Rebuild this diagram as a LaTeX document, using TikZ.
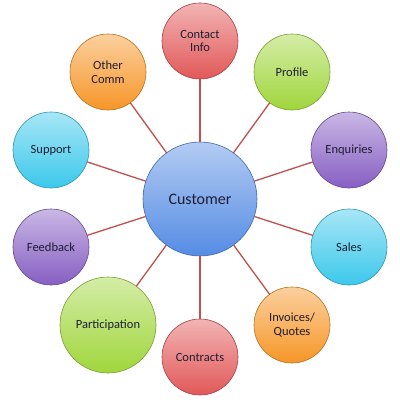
\documentclass[tikz,border=0pt]{standalone}
\usepackage{fontspec}
\setmainfont{Carlito}
\definecolor{linkred}{RGB}{192,80,77}
\definecolor{txt}{RGB}{30,30,50}
\definecolor{cred}{RGB}{226,88,88}
\definecolor{cgreen}{RGB}{160,214,60}
\definecolor{cpurple}{RGB}{135,95,195}
\definecolor{ccyan}{RGB}{60,200,235}
\definecolor{corange}{RGB}{246,150,40}
\definecolor{cblue}{RGB}{85,140,228}
\begin{document}
\begin{tikzpicture}[x=1pt,y=-1pt,line join=round,line cap=round,font=\fontsize{12.5}{13.5}\selectfont,
	bubble/.style={circle,minimum size=76pt,inner sep=1pt,align=center,text=txt,draw=#1!75!black,line width=.6pt,top color=#1!45!white,bottom color=#1},
	link/.style={draw=linkred,line width=1.3pt}]
	\useasboundingbox (0,0) rectangle (400,400);
	\node[bubble=cblue,minimum size=114pt,font=\fontsize{16}{17}\selectfont] (hub) at (200,199) {Customer};
	\foreach \n/\x/\y/\c/\t in {contact/200/41/cred/{Contact\\Info},
			profile/292/72/cgreen/Profile,
			enquiries/349/150/cpurple/Enquiries,
			sales/349/247/ccyan/Sales,
			invoices/292/325/corange/{Invoices/\\Quotes},
			contracts/200/357/cred/Contracts,
			feedback/51/247/cpurple/Feedback,
			support/51/150/ccyan/Support,
			other/108/72/corange/{Other\\Comm}}{
		\node[bubble=\c] (\n) at (\x,\y) {\t};
		\draw[link] (hub) -- (\n);
	}
	\node[bubble=cgreen,minimum size=96pt] (part) at (108,325) {Participation};
	\draw[link] (hub) -- (part);
\end{tikzpicture}
\end{document}
